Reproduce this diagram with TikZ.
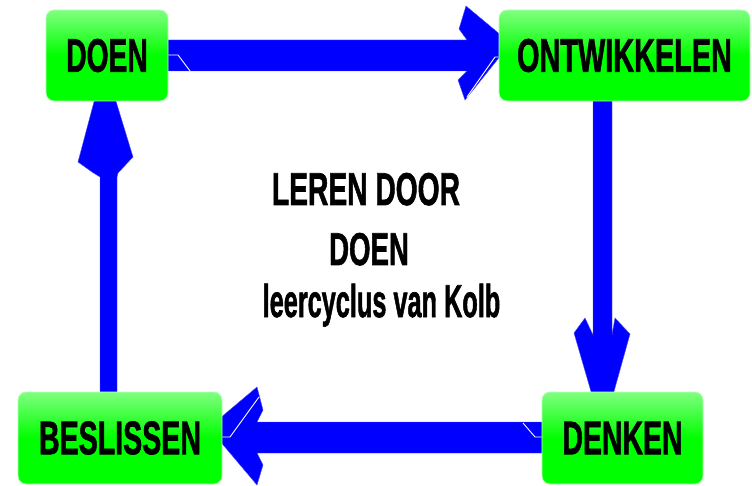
\documentclass[tikz,border=0pt]{standalone}
\usepackage{fontspec}
\setmainfont{Liberation Sans}[BoldFeatures={FakeBold=1.6}]
\usepackage{graphicx}
\usetikzlibrary{backgrounds}
\definecolor{lgreen}{RGB}{128,255,128}
\definecolor{bgreen}{RGB}{0,255,0}
\definecolor{arrowblue}{RGB}{0,0,255}
\newcommand{\sqz}[2][0.61]{\scalebox{#1}[1]{#2}}
\begin{document}
\begin{tikzpicture}[x=1pt,y=-1pt,
  box/.style={draw=lgreen!60!white, line width=0.8pt, rounded corners=8pt,
    top color=lgreen, bottom color=bgreen, middle color=bgreen,
    inner sep=0pt, font=\bfseries\fontsize{47}{47}\selectfont},
  title/.style={inner sep=0pt, anchor=base, font=\bfseries\fontsize{46}{46}\selectfont},
  arrowbody/.style={fill=arrowblue, draw=arrowblue!70!white, line width=0.4pt},
  bevel/.style={draw=white, line width=0.9pt}]
\useasboundingbox (0,0) rectangle (752,486);

\node[box, minimum width=122pt, minimum height=91pt] (doen) at (107,55.5) {\sqz[0.60]{DOEN}};
\node[box, minimum width=251pt, minimum height=91pt] (ontw) at (624.5,55.5) {\sqz[0.614]{ONTWIKKELEN}};
\node[box, minimum width=161pt, minimum height=92pt] (denken) at (622.5,438) {\sqz[0.605]{DENKEN}};
\node[box, minimum width=204pt, minimum height=92pt] (beslissen) at (120,438) {\sqz[0.608]{BESLISSEN}};

\node[title] (t1) at (366,205) {\sqz[0.613]{LEREN DOOR}};
\node[title] (t2) at (369,265) {\sqz[0.60]{DOEN}};
\node[title] (t3) at (381.5,317) {\sqz[0.55]{leercyclus van Kolb}};

\begin{scope}[on background layer]
  % DOEN -> ONTWIKKELEN
  \path[arrowbody] (168,40) -- (467,40) -- (459,29) -- (466,6) -- (502,36) -- (502,54)
    -- (465,100) -- (458,80) -- (467,71) -- (168,71) -- cycle;
  % ONTWIKKELEN -> DENKEN
  \path[arrowbody] (593,101) -- (593,335) -- (585,318) -- (574,333) -- (592,395)
    -- (613,395) -- (630,334) -- (615,318) -- (612,335) -- (612,101) -- cycle;
  % DENKEN -> BESLISSEN
  \path[arrowbody] (542,422) -- (257,422) -- (263,410) -- (257,387) -- (219,419)
    -- (219,440) -- (257,485) -- (263,465) -- (257,453) -- (542,453) -- cycle;
  % BESLISSEN -> DOEN
  \path[arrowbody] (100,392) -- (100,177) -- (92,172) -- (78,162) -- (95,98) -- (115,98)
    -- (133,157) -- (118,173) -- (117,177) -- (117,392) -- cycle;
  % bevel highlights
  \draw[bevel] (doen.east |- 0,55) -- (178,55) -- (190,71);
  \draw[bevel] (467,97) -- (495,57) -- (ontw.west |- 0,57);
  \draw[bevel] (523,423) -- (535,437) -- (denken.west |- 0,437);
  \draw[bevel] (259,397) -- (230,437) -- (beslissen.east |- 0,437);
\end{scope}
\end{tikzpicture}
\end{document}
